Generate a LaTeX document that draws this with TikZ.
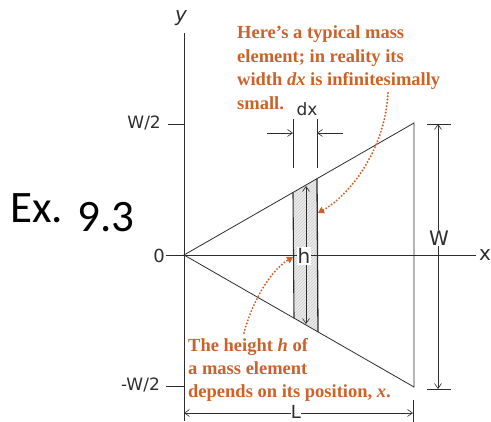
\documentclass[tikz,border=0pt]{standalone}
\usepackage{fontspec}
\setmainfont{Liberation Serif}
\newfontfamily\handfont{DejaVu Sans}
\newfontfamily\exfont{Carlito}
\usetikzlibrary{arrows.meta,patterns}
\definecolor{anno}{RGB}{204,98,42}
\definecolor{ink}{RGB}{45,45,45}
\begin{document}
\begin{tikzpicture}[x=1pt,y=-1pt,
  inkline/.style={draw=ink, line width=0.8pt},
  dim/.style={draw=ink, line width=0.6pt},
  dimarrow/.style={dim, -{Straight Barb[length=5pt,width=7pt]}},
  dimboth/.style={dim, {Straight Barb[length=5pt,width=7pt]}-{Straight Barb[length=5pt,width=7pt]}},
  hand/.style={font=\handfont\fontsize{17}{17}\selectfont, text=ink, inner sep=1pt},
  handbig/.style={font=\handfont\fontsize{20}{20}\selectfont, text=ink, inner sep=1pt},
  annotext/.style={font=\bfseries\fontsize{18.5}{22}\selectfont, text=anno, anchor=base west, inner sep=0pt},
  dots/.style={draw=anno, line width=2.2pt, line cap=round, dash pattern=on 0pt off 3.3pt, -{Triangle[length=6pt,width=7pt]}}
]
\useasboundingbox (0,0) rectangle (491,422);
% key points
\coordinate (O) at (184,255);
\coordinate (TR) at (414,123);
\coordinate (BR) at (414,387);
\coordinate (ytop) at (184,33);
\coordinate (ybot) at (184,421);
\coordinate (xl) at (166,255);
\coordinate (xr) at (476,255);
\coordinate (SA) at (293,192.4);
\coordinate (SB) at (317,178.7);
\coordinate (SC) at (318,331.9);
\coordinate (SD) at (294,318.1);
% strip
\fill[gray!15] (SA) -- (SB) -- (SC) -- (SD) -- cycle;
\fill[pattern=north east lines, pattern color=gray!40] (SA) -- (SB) -- (SC) -- (SD) -- cycle;
\draw[inkline, line width=1.1pt] (SA) -- (SD);
\draw[inkline, line width=1.3pt] (SB) -- (SC);
% axes
\draw[dim] (ytop) -- (ybot);
\draw[dim] (xl) -- (xr);
% triangle
\draw[inkline] (O) -- (TR) -- (BR) -- cycle;
% ticks
\coordinate (tw1) at (168,124); \coordinate (tw2) at (184,124);
\coordinate (tm1) at (166,386); \coordinate (tm2) at (184,386);
\draw[dim] (tw1) -- (tw2);
\draw[dim] (tm1) -- (tm2);
\node[hand, anchor=east] (lw2) at (162,123) {W/2};
\node[hand, anchor=east] (lmw2) at (161,385) {-W/2};
\node[hand, anchor=east, font=\handfont\fontsize{18}{18}\selectfont] (l0) at (166,256) {0};
\node[handbig] (ly) at (181,18) {\itshape y};
\node[handbig] (lx) at (485,255) {x};
% W dimension
\coordinate (Wt) at (438,124); \coordinate (Wb) at (438,389);
\draw[dim] (427,124) -- (451,124);
\draw[dim] (427,389) -- (451,389);
\draw[dimboth] (Wt) -- (Wb);
\node[handbig, fill=white] (lW) at (439,238) {W};
% L dimension
\coordinate (Ll) at (184,413); \coordinate (Lr) at (413,413);
\draw[dim] (413,400) -- (413,422);
\draw[dimboth] (Ll) -- (Lr);
\node[handbig, fill=white, inner sep=0pt, font=\handfont\fontsize{18}{18}\selectfont] (lL) at (296,412) {L};
% dx dimension
\coordinate (dxl) at (293,133); \coordinate (dxr) at (317,133);
\draw[dim] (293,119) -- (293,168);
\draw[dim] (317,119) -- (317,168);
\coordinate (dxla) at (267,133); \coordinate (dxra) at (343,133);
\draw[dimarrow] (dxla) -- (dxl);
\draw[dimarrow] (dxra) -- (dxr);
\node[hand] (ldx) at (307,109) {dx};
% h
\coordinate (ht) at (306,186); \coordinate (hb) at (306,324);
\draw[dimboth] (ht) -- (hb);
\node[handbig, fill=white, inner sep=1pt] (lh) at (304,256) {h};
% annotations
\node[annotext] (a1) at (237,39) {Here’s a typical mass};
\node[annotext] (a2) at (237,62.5) {element; in reality its};
\node[annotext] (a3) at (237,86) {width \textit{dx} is infinitesimally};
\node[annotext] (a4) at (237,109.5) {small.};
\node[annotext] (b1) at (188,352) {The height \textit{h} of};
\node[annotext] (b2) at (188,375) {a mass element};
\node[annotext] (b3) at (188,398) {depends on its position, \textit{x}.};
\coordinate (d1s) at (388,93); \coordinate (d1e) at (318,213);
\draw[dots] (d1s) .. controls (385,150) and (350,195) .. (d1e);
\coordinate (d2s) at (244,333); \coordinate (d2e) at (293,257);
\draw[dots] (d2s) .. controls (250,308) and (268,272) .. (d2e);
% example label
\node[font=\exfont\fontsize{45}{45}\selectfont, anchor=base west, inner sep=0pt] (ex) at (10,223) {Ex.};
\node[font=\exfont\fontsize{45}{45}\selectfont, anchor=base west, inner sep=0pt] (exn) at (77,232) {9.3};
\end{tikzpicture}
\end{document}
